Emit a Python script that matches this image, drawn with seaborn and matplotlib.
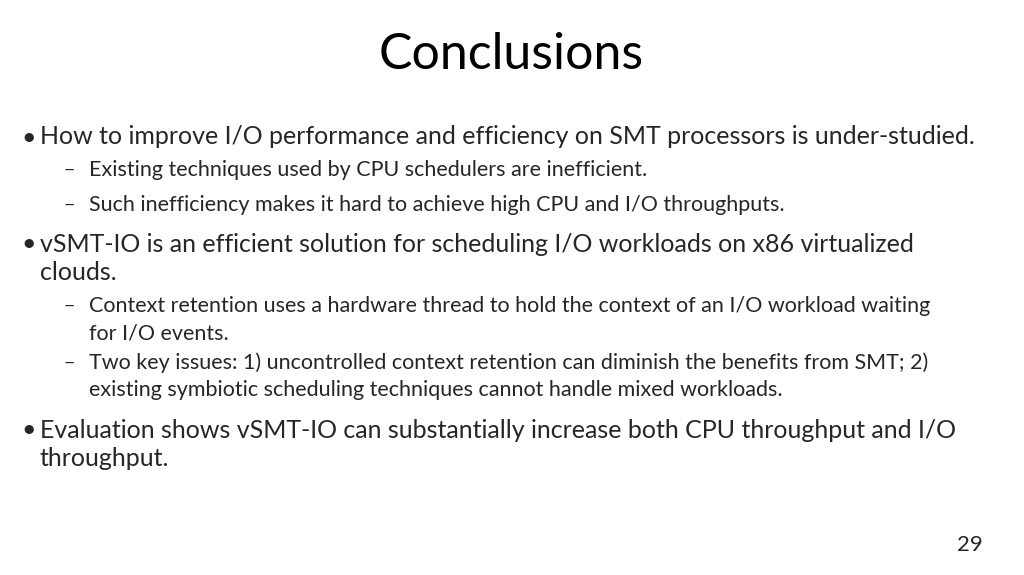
import matplotlib
matplotlib.use("Agg")
import matplotlib.pyplot as plt
import seaborn as sns

title = "Conclusions"
page_number = "29"

# (level, text lines) ; level 0 = bullet, 1 = dash
items = [
    (0, ["How to improve I/O performance and efficiency on SMT processors is under-studied."]),
    (1, ["Existing techniques used by CPU schedulers are inefficient."]),
    (1, ["Such inefficiency makes it hard to achieve high CPU and I/O throughputs."]),
    (0, ["vSMT-IO is an efficient solution for scheduling I/O workloads on x86 virtualized",
         "clouds."]),
    (1, ["Context retention uses a hardware thread to hold the context of an I/O workload waiting",
         "for I/O events."]),
    (1, ["Two key issues: 1) uncontrolled context retention can diminish the benefits from SMT; 2)",
         "existing symbiotic scheduling techniques cannot handle mixed workloads."]),
    (0, ["Evaluation shows vSMT-IO can substantially increase both CPU throughput and I/O",
         "throughput."]),
]
item_tops = [137, 170, 205, 244, 306, 363, 430]

sns.set_style("white")
plt.rcParams['font.family'] = ['Lato', 'DejaVu Sans']

W, H = 1024, 575
fig = plt.figure(figsize=(W / 100, H / 100), dpi=100)
ax = fig.add_axes([0, 0, 1, 1])
ax.set_xlim(0, W)
ax.set_ylim(H, 0)
ax.axis('off')

ax.text(511, 55, title, ha='center', va='center', fontsize=36, color='black')

for (level, lines), y in zip(items, item_tops):
    if level == 0:
        ax.text(21, y, "•", ha='left', va='center', fontsize=18)
        x, fs, step = 40, 18, 29
    else:
        ax.text(64, y, "−", ha='left', va='center', fontsize=14)
        x, fs, step = 89, 15.5, 27
    for i, line in enumerate(lines):
        ax.text(x, y + i * step, line, ha='left', va='center', fontsize=fs)

ax.text(983, 545, page_number, ha='right', va='center', fontsize=16)

fig.savefig("out.png", dpi=100)
